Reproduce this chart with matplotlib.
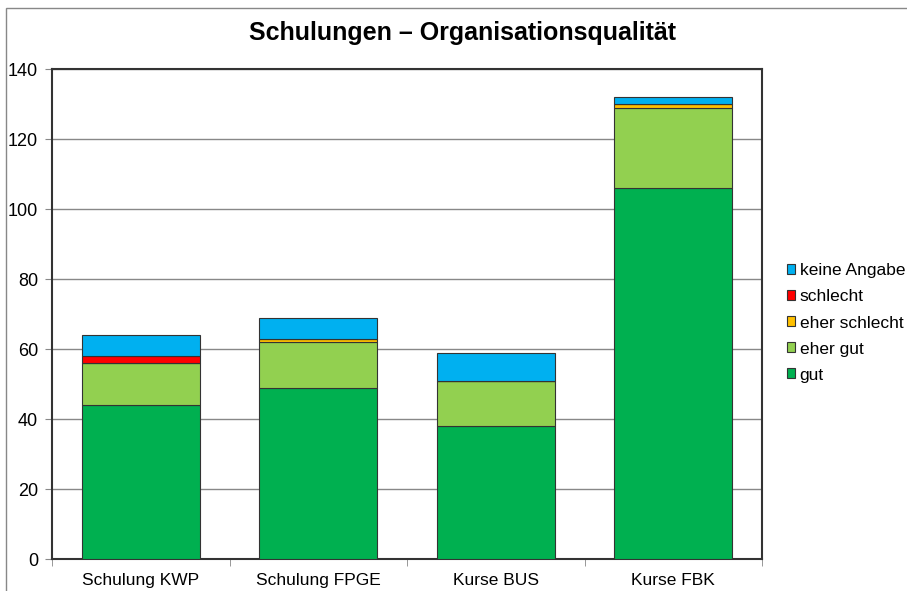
import matplotlib.pyplot as plt
import numpy as np
from matplotlib.patches import Rectangle

# Daten
kategorien = ["Schulung KWP", "Schulung FPGE", "Kurse BUS", "Kurse FBK"]
gut = [44, 49, 38, 106]
eher_gut = [12, 13, 13, 23]
eher_schlecht = [0, 1, 0, 1]
schlecht = [2, 0, 0, 0]
keine_angabe = [6, 6, 8, 2]

serien = [
    ("gut", gut, "#00B050"),
    ("eher gut", eher_gut, "#92D050"),
    ("eher schlecht", eher_schlecht, "#FFC000"),
    ("schlecht", schlecht, "#FF0000"),
    ("keine Angabe", keine_angabe, "#00B0F0"),
]

plt.rcParams['font.family'] = ['Liberation Sans', 'DejaVu Sans']

fig = plt.figure(figsize=(9.07, 5.91), dpi=100)
W, H = 907, 591
ax = fig.add_axes([52 / W, 1 - 559 / H, 710 / W, 490 / H])

# Rahmen des Diagrammbereichs
fig.patches.append(Rectangle((6 / W, -0.1), 1.2, 1 - 8 / H + 0.1,
                             transform=fig.transFigure, fill=False,
                             edgecolor="#888888", linewidth=1))

x = np.arange(len(kategorien))
unten = np.zeros(len(kategorien))
for name, werte, farbe in serien:
    ax.bar(x, werte, width=0.667, bottom=unten, color=farbe,
           edgecolor="#333333", linewidth=0.8, label=name, zorder=3)
    unten += np.array(werte)

ax.set_xlim(-0.5, 3.5)
ax.set_ylim(0, 140)
ax.set_yticks(range(0, 141, 20))
ax.yaxis.grid(True, color="#888888", linewidth=1, zorder=0)
ax.set_axisbelow(True)

ax.set_xticks(x)
ax.set_xticklabels(kategorien, fontsize=12.5)
ax.set_xticks(np.arange(-0.5, 4, 1), minor=True)
ax.tick_params(axis="x", which="major", length=0, pad=10)
ax.tick_params(axis="x", which="minor", length=5, color="#888888")
ax.tick_params(axis="y", labelsize=13, length=5, color="#888888", pad=5)

for s in ax.spines.values():
    s.set_color("#333333")
    s.set_linewidth(1.5)

fig.text(462 / W, 1 - 33 / H, "Schulungen – Organisationsqualität",
         ha="center", va="center", fontsize=18, fontweight="bold")

handles, labels = ax.get_legend_handles_labels()
leg = fig.legend(handles[::-1], labels[::-1], loc="center left",
                 bbox_to_anchor=(771 / W, 1 - 323 / H), frameon=False,
                 fontsize=12.5, handlelength=0.5, handleheight=0.5,
                 handletextpad=0.25, labelspacing=0.635)

fig.savefig("out.png", dpi=100)
